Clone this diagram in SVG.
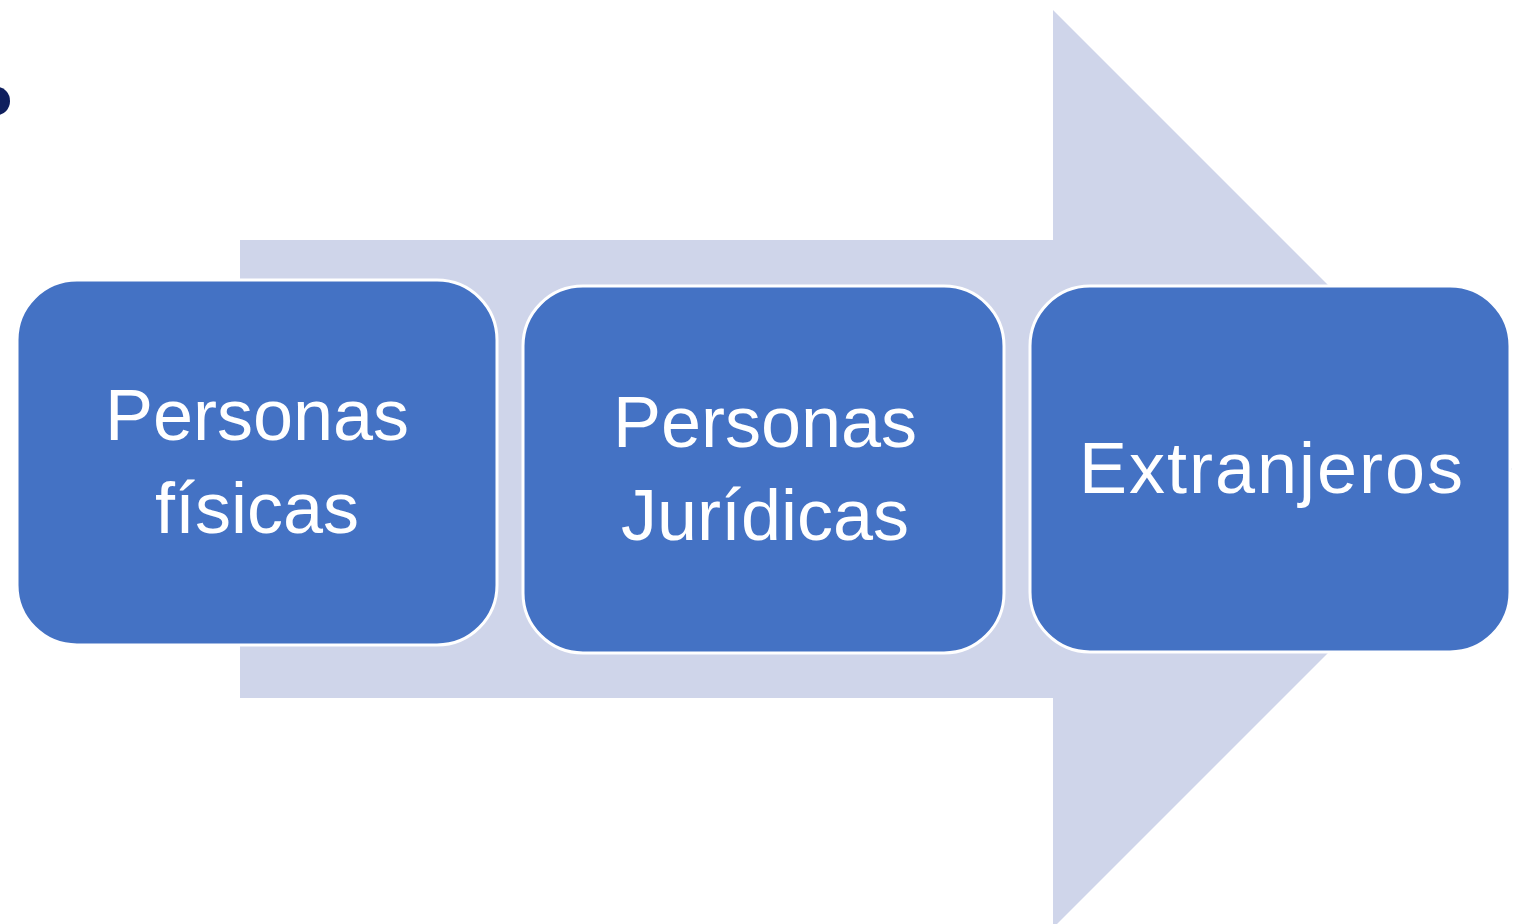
<svg xmlns="http://www.w3.org/2000/svg" width="1520" height="924" viewBox="0 0 1520 924">
<style>
.box{fill:#4472C4;stroke:#FFFFFF;stroke-width:3}
.lbl{font-family:"Liberation Sans",Arial,sans-serif;font-size:72px;fill:#FFFFFF;text-anchor:middle}
</style>
<rect width="1520" height="924" fill="#FFFFFF"/>
<ellipse cx="-3" cy="101" rx="13" ry="14" fill="#0F1F5E"/>
<g id="connectors">
<polygon points="240,240 1053,240 1053,10 1512,469 1053,928 1053,698 240,698" fill="#CFD5EA"/>
</g>
<g id="node1">
<rect class="box" x="17" y="280" width="480" height="365" rx="60" ry="60"/>
<text class="lbl" x="257" y="440">Personas</text>
<text class="lbl" x="257" y="533">físicas</text>
</g>
<g id="node2">
<rect class="box" x="523" y="286" width="481" height="367" rx="60" ry="60"/>
<text class="lbl" x="765" y="447">Personas</text>
<text class="lbl" x="765" y="540">Jurídicas</text>
</g>
<g id="node3">
<rect class="box" x="1030" y="286" width="480" height="366" rx="60" ry="60"/>
<text class="lbl" x="1272" y="493" letter-spacing="2">Extranjeros</text>
</g>
</svg>
